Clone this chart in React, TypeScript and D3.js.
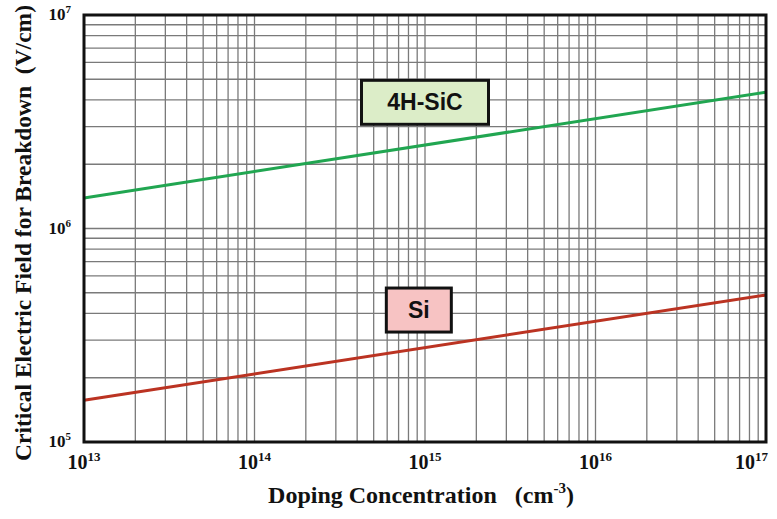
import React from "react";
import * as d3 from "d3";

const xTicks = [1e13, 1e14, 1e15, 1e16, 1e17];
const xTickExp = ["13", "14", "15", "16", "17"];
const yTicks = [1e5, 1e6, 1e7];
const yTickExp = ["5", "6", "7"];
const doping = [1e13, 1e17];
const sicField = [1.39e6, 4.35e6];
const siField = [1.57e5, 4.88e5];
const labels = [
  { text: "4H-SiC", x: 1.0e15, y: 3.9e6, fill: "#dcedc8", w: 127, h: 44 },
  { text: "Si", x: 9.2e14, y: 4.15e5, fill: "#f7c3c3", w: 65, h: 44 },
];

const W = 777;
const H = 519;
const M = { left: 84, right: 11, top: 15, bottom: 77 };

export default function App() {
  const x = d3.scaleLog().domain([1e13, 1e17]).range([M.left, W - M.right]);
  const y = d3.scaleLog().domain([1e5, 1e7]).range([H - M.bottom, M.top]);
  const xMinor: number[] = [];
  for (let e = 13; e < 17; e++) for (let m = 2; m <= 9; m++) xMinor.push(m * Math.pow(10, e));
  const yMinor: number[] = [];
  for (let e = 5; e < 7; e++) for (let m = 2; m <= 9; m++) yMinor.push(m * Math.pow(10, e));
  const line = d3
    .line<number>()
    .x((_, i) => x(doping[i]))
    .y((d) => y(d));
  const serif = "'Liberation Serif', 'Times New Roman', serif";
  const sans = "'Liberation Sans', Arial, sans-serif";
  const [x0, x1] = x.range();
  const [y0, y1] = y.range();
  return (
    <svg width={W} height={H} style={{ position: "absolute", left: 0, top: 0, background: "#fff" }}>
      <g stroke="#7a7a7a" strokeWidth={1.3}>
        {xMinor.concat(xTicks).map((v, i) => (
          <line key={"xg" + i} x1={x(v)} x2={x(v)} y1={y1} y2={y0} />
        ))}
        {yMinor.concat(yTicks).map((v, i) => (
          <line key={"yg" + i} x1={x0} x2={x1} y1={y(v)} y2={y(v)} />
        ))}
      </g>
      <path d={line(sicField) || ""} stroke="#21a651" strokeWidth={3} fill="none" />
      <path d={line(siField) || ""} stroke="#bb3322" strokeWidth={3} fill="none" />
      <rect x={x0} y={y1} width={x1 - x0} height={y0 - y1} fill="none" stroke="#111" strokeWidth={3} />
      {labels.map((l, i) => (
        <g key={"lab" + i}>
          <rect
            x={x(l.x) - l.w / 2}
            y={y(l.y) - l.h / 2}
            width={l.w}
            height={l.h}
            fill={l.fill}
            stroke="#111"
            strokeWidth={3}
          />
          <text
            x={x(l.x)}
            y={y(l.y) + 8}
            textAnchor="middle"
            fontFamily={sans}
            fontWeight="bold"
            fontSize={23}
            fill="#111"
          >
            {l.text}
          </text>
        </g>
      ))}
      {xTicks.map((v, i) => {
        const last = i === xTicks.length - 1;
        return (
          <text
            key={"xt" + i}
            x={last ? W - 9 : x(v)}
            y={y0 + 27}
            textAnchor={last ? "end" : "middle"}
            fontFamily={serif}
            fontWeight="bold"
            fontSize={20}
            fill="#111"
          >
            10
            <tspan fontSize={13} dy={-8}>
              {xTickExp[i]}
            </tspan>
          </text>
        );
      })}
      {yTicks.map((v, i) => (
        <text
          key={"yt" + i}
          x={x0 - 13}
          y={y(v) + 5}
          textAnchor="end"
          fontFamily={serif}
          fontWeight="bold"
          fontSize={17}
          fill="#111"
        >
          10
          <tspan fontSize={11} dy={-7}>
            {yTickExp[i]}
          </tspan>
        </text>
      ))}
      <text
        x={421}
        y={503}
        textAnchor="middle"
        fontFamily={serif}
        fontWeight="bold"
        fontSize={24}
        fill="#111"
        xmlSpace="preserve"
      >
        Doping Concentration{"   "}(cm
        <tspan fontSize={15} dy={-10}>
          -3
        </tspan>
        <tspan dy={10}>)</tspan>
      </text>
      <text
        transform={`translate(31, 233) rotate(-90)`}
        textAnchor="middle"
        fontFamily={serif}
        fontWeight="bold"
        fontSize={23.5}
        fill="#111"
        xmlSpace="preserve"
      >
        Critical Electric Field for Breakdown{"  "}(V/cm)
      </text>
    </svg>
  );
}
